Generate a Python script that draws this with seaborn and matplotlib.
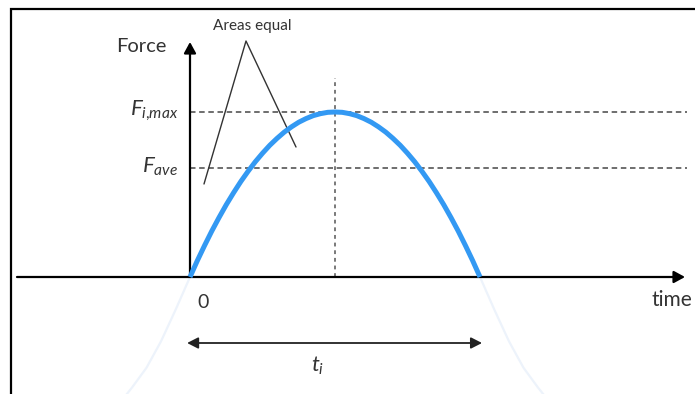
import matplotlib
matplotlib.use("Agg")
import matplotlib.pyplot as plt
from matplotlib.patches import Rectangle
import pandas as pd
import seaborn as sns

# Impulse force profile (time in units of t_i, force in units of F_i,max)
pulse_time = [0.0, 0.025, 0.05, 0.075, 0.10, 0.125, 0.15, 0.175, 0.20, 0.225,
              0.25, 0.275, 0.30, 0.325, 0.35, 0.375, 0.40, 0.425, 0.45, 0.475,
              0.50, 0.525, 0.55, 0.575, 0.60, 0.625, 0.65, 0.675, 0.70, 0.725,
              0.75, 0.775, 0.80, 0.825, 0.85, 0.875, 0.90, 0.925, 0.95, 0.975, 1.0]
pulse_force = [0.0, 0.098, 0.19, 0.278, 0.36, 0.438, 0.51, 0.578, 0.64, 0.698,
               0.75, 0.798, 0.84, 0.878, 0.91, 0.938, 0.96, 0.978, 0.99, 0.998,
               1.0, 0.998, 0.99, 0.978, 0.96, 0.938, 0.91, 0.878, 0.84, 0.798,
               0.75, 0.698, 0.64, 0.578, 0.51, 0.438, 0.36, 0.278, 0.19, 0.098, 0.0]

# Faint continuation of the curve outside the contact interval
tail_left_time = [0.0, -0.05, -0.10, -0.15, -0.20, -0.25]
tail_left_force = [0.0, -0.20, -0.39, -0.55, -0.67, -0.78]
tail_right_time = [1.0, 1.05, 1.10, 1.15, 1.20, 1.25]
tail_right_force = [0.0, -0.20, -0.39, -0.55, -0.67, -0.78]

# Reference levels
f_max = 1.0
f_ave = 0.66
t_peak = 0.5
t_contact = 1.0

sns.set_theme(style="white")
plt.rcParams["font.family"] = ["Lato", "DejaVu Sans"]
plt.rcParams["mathtext.fontset"] = "custom"
plt.rcParams["mathtext.it"] = "Lato:italic"
plt.rcParams["mathtext.rm"] = "Lato"

W, H = 695, 394
fig = plt.figure(figsize=(W / 100, H / 100), dpi=100)
ax = fig.add_axes([0, 0, 1, 1])

# pixel geometry of the data frame
x0_px, x1_px = 190, 480
y0_px, y1_px = 277, 112
sx = x1_px - x0_px
sy = y0_px - y1_px
ax.set_xlim(-x0_px / sx, (W - x0_px) / sx)
ax.set_ylim(-(H - y0_px) / sy, y0_px / sy)
ax.axis("off")

def px(x, y):
    return (x - x0_px) / sx, (y0_px - y) / sy

pulse = pd.DataFrame({"time": pulse_time, "force": pulse_force})
tail_l = pd.DataFrame({"time": tail_left_time, "force": tail_left_force})
tail_r = pd.DataFrame({"time": tail_right_time, "force": tail_right_force})

sns.lineplot(data=tail_l, x="time", y="force", sort=False, estimator=None,
             color="#edf3fb", lw=1.6, ax=ax, zorder=1)
sns.lineplot(data=tail_r, x="time", y="force", sort=False, estimator=None,
             color="#edf3fb", lw=1.6, ax=ax, zorder=1)
sns.lineplot(data=pulse, x="time", y="force", sort=False, estimator=None,
             color="#3399f3", lw=3.6, ax=ax, zorder=4,
             solid_capstyle="butt", solid_joinstyle="round")

# dashed reference levels
x_dash_end = px(687, 0)[0]
ax.plot([0, x_dash_end], [f_max, f_max], color="#555555", lw=1.2,
        ls=(0, (3.3, 2.2)), zorder=2)
ax.plot([0, x_dash_end], [f_ave, f_ave], color="#555555", lw=1.2,
        ls=(0, (3.3, 2.2)), zorder=2)
ax.plot([t_peak, t_peak], [0, px(0, 78)[1]], color="#555555", lw=1.1,
        ls=(0, (2.5, 2.5)), zorder=2)

# axes with arrowheads
ax.annotate("", xy=px(190, 42), xytext=(0, 0),
            arrowprops=dict(arrowstyle="-|>,head_length=0.55,head_width=0.3",
                            color="black", lw=1.6, shrinkA=0, shrinkB=0),
            zorder=3)
ax.annotate("", xy=px(685, 277), xytext=px(17, 277),
            arrowprops=dict(arrowstyle="-|>,head_length=0.55,head_width=0.3",
                            color="black", lw=1.6, shrinkA=0, shrinkB=0),
            zorder=3)

# contact duration arrow
ax.annotate("", xy=(t_contact + 0.007, px(0, 343)[1]), xytext=(-0.01, px(0, 343)[1]),
            arrowprops=dict(arrowstyle="<|-|>,head_length=0.55,head_width=0.28",
                            color="#222222", lw=1.3, shrinkA=0, shrinkB=0))

# "Areas equal" pointer lines
apex = px(246, 41)
ax.plot([px(204, 184)[0], apex[0], px(296, 147)[0]],
        [px(204, 184)[1], apex[1], px(296, 147)[1]],
        color="#333333", lw=1.0, zorder=3)

# labels
tc = "#333333"
ax.text(*px(141, 47), "Force", fontsize=14.5, color=tc, ha="center", va="center")
ax.text(*px(252, 26), "Areas equal", fontsize=11, color=tc, ha="center", va="center")
ax.text(*px(178, 111), r"$F_{i{,}max}$", fontsize=16, color=tc, ha="right", va="center")
ax.text(*px(178, 167), r"$F_{ave}$", fontsize=16, color=tc, ha="right", va="center")
ax.text(*px(203, 302), "0", fontsize=14, color=tc, ha="center", va="center")
ax.text(*px(652, 300), "time", fontsize=15, color=tc, ha="left", va="center")
ax.text(*px(318, 366), r"$t_i$", fontsize=16, color=tc, ha="center", va="center")

# frame around the drawing, running off the right and bottom edges
fig.patches.append(Rectangle((11 / W, -0.1), 1.2, 1 - 9 / H + 0.1,
                             transform=fig.transFigure, fill=False,
                             edgecolor="black", lw=1.6, zorder=10))

fig.savefig("out.png", dpi=100)
